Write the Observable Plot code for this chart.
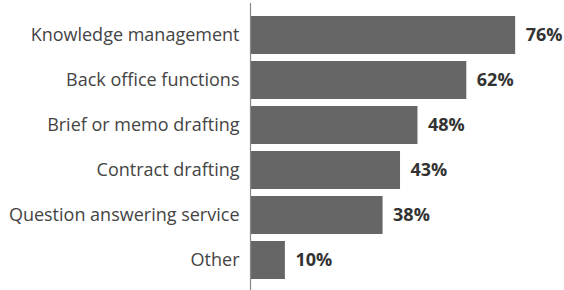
<!DOCTYPE html>
<html><head><meta charset="utf-8">
<script src="https://cdn.jsdelivr.net/npm/d3@7"></script>
<script src="https://cdn.jsdelivr.net/npm/@observablehq/plot@0.6"></script>
<style>body{margin:0;background:#fff}</style>
</head><body><div id="chart"></div>
<script>
const categories = ["Knowledge management","Back office functions","Brief or memo drafting","Contract drafting","Question answering service","Other"];
const values = [76, 62, 48, 43, 38, 10];
const data = categories.map((c,i)=>({category:c, value:values[i]}));
const chart = Plot.plot({
  width: 564, height: 290,
  marginLeft: 250, marginRight: 0, marginTop: 8, marginBottom: 3,
  style: {fontFamily: "'Open Sans', sans-serif", fontSize: "18px", background: "#fff"},
  x: {domain: [0, 90], axis: null},
  y: {domain: categories, padding: 0.163, label: null, tickSize: 0, tickPadding: 11},
  marks: [
    Plot.barX(data, {x: "value", y: "category", fill: "#666666"}),
    Plot.text(data, {x: "value", y: "category", text: d => d.value + "%", textAnchor: "start", dx: 10, fontWeight: "bold", fill: "#333", fontSize: 18}),
    Plot.ruleX([0], {stroke: "#888", strokeWidth: 1.2, insetTop: -5, insetBottom: -3})
  ]
});
chart.querySelectorAll("[aria-label='y-axis tick label'] text").forEach(t=>t.setAttribute("fill","#444"));
document.getElementById("chart").append(chart);
</script></body></html>
